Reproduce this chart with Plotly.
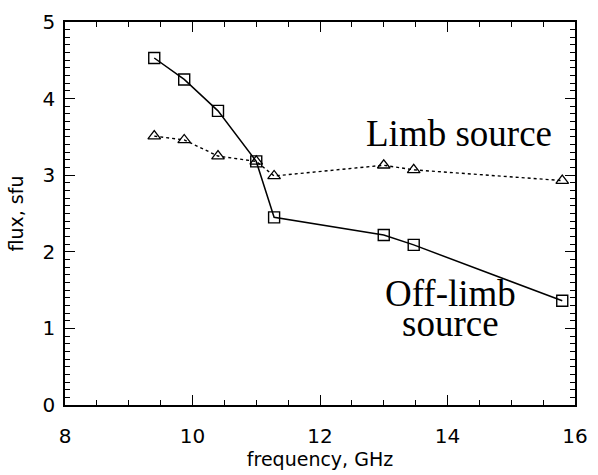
import plotly.graph_objects as go

# Observing frequencies (GHz) and fluxes (sfu)
freq_ghz = [9.4, 9.87, 10.4, 11.0, 11.28, 13.0, 13.47, 15.8]
off_limb_flux = [4.53, 4.25, 3.84, 3.18, 2.45, 2.22, 2.09, 1.36]
limb_flux = [3.51, 3.46, 3.25, 3.18, 2.99, 3.13, 3.07, 2.93]

x_ticks = [8, 10, 12, 14, 16]
y_ticks = [0, 1, 2, 3, 4, 5]

fig = go.Figure()

fig.add_trace(go.Scatter(
    x=freq_ghz, y=limb_flux, mode="lines+markers",
    line=dict(color="black", width=1.4, dash="dot"),
    marker=dict(symbol="triangle-up-open", size=11, color="black",
                line=dict(width=1.3)),
    showlegend=False,
))
fig.add_trace(go.Scatter(
    x=freq_ghz, y=off_limb_flux, mode="lines+markers",
    line=dict(color="black", width=1.5),
    marker=dict(symbol="square-open", size=11, color="black",
                line=dict(width=1.4)),
    showlegend=False,
))

# Source labels; the two-line label is set as two tight lines
label_font = dict(family="Liberation Serif", size=37, color="black")
fig.add_annotation(x=14.18, y=3.54, text="Limb source", showarrow=False,
                   font=label_font)
fig.add_annotation(x=14.05, y=1.42, text="Off-limb", showarrow=False,
                   font=label_font, height=36, valign="bottom")
fig.add_annotation(x=14.05, y=0.99, text="source", showarrow=False,
                   font=label_font, height=30, valign="bottom")

axis_common = dict(
    showgrid=False, zeroline=False, showline=True, linecolor="black",
    linewidth=1.6, mirror="allticks", ticks="inside", ticklen=10,
    tickwidth=1.3, tickcolor="black",
    tickfont=dict(family="DejaVu Sans", size=20, color="black"),
)
title_font = dict(family="DejaVu Sans", size=19, color="black")

fig.update_xaxes(
    range=[8, 16], tickvals=x_ticks, ticktext=[str(v) for v in x_ticks],
    ticklabelstandoff=12,
    minor=dict(dtick=0.5, ticks="inside", ticklen=5, tickwidth=1.2,
               tickcolor="black"),
    title=dict(text="frequency, GHz", standoff=4, font=title_font),
    **axis_common,
)
fig.update_yaxes(
    range=[0, 5], tickvals=y_ticks, ticktext=[str(v) for v in y_ticks],
    ticklabelstandoff=4,
    minor=dict(dtick=0.1, ticks="inside", ticklen=5, tickwidth=1.2,
               tickcolor="black"),
    title=dict(text="flux, sfu", standoff=14, font=title_font),
    **axis_common,
)

fig.update_layout(
    width=598, height=475,
    margin=dict(l=65, r=14, t=10, b=67),
    plot_bgcolor="white", paper_bgcolor="white",
)

fig.write_html("out.html")
